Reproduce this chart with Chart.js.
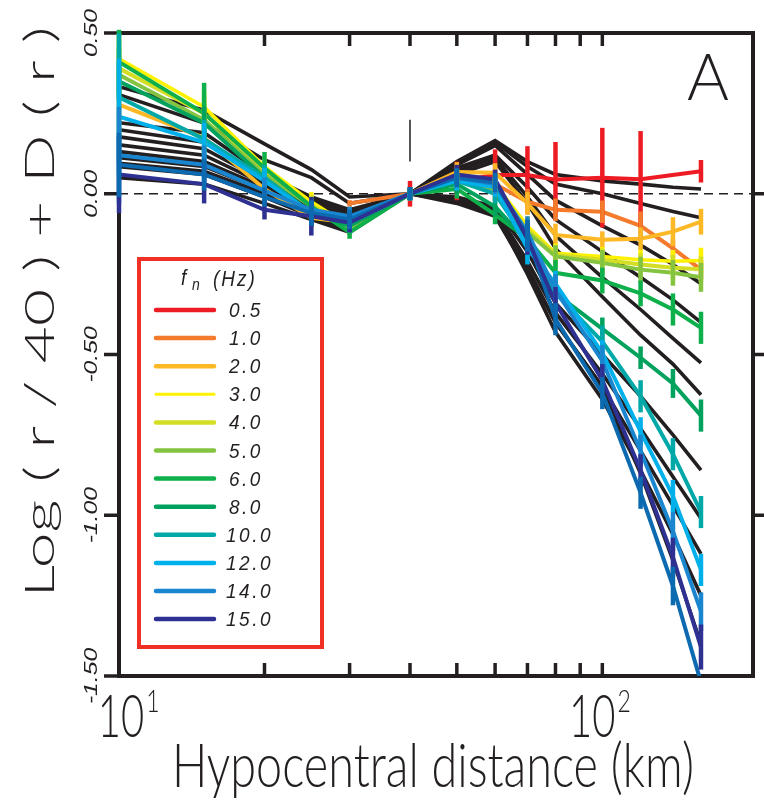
<!DOCTYPE html>
<html>
<head>
<meta charset="utf-8">
<script src="https://cdn.jsdelivr.net/npm/chart.js@4.4.1/dist/chart.umd.min.js"></script>
<style>
  html, body { margin: 0; padding: 0; background: #fff; }
</style>
</head>
<body>
<canvas id="distChart" width="764" height="800"></canvas>
<script>
// hypocentral distances (km) of the bins
var distances = [10, 15, 20, 25, 30, 40, 50, 60, 70, 80, 100, 120, 140, 160];

var freqLabels = ['0.5', '1.0', '2.0', '3.0', '4.0', '5.0', '6.0', '8.0', '10.0', '12.0', '14.0', '15.0'];
var freqColors = ['#ED1C24', '#F47A2C', '#FDB825', '#FFF200', '#D4DE25', '#84C441',
                  '#0DB04B', '#00A25E', '#00A9A8', '#00B0EA', '#1A86CF', '#2E3192'];
var extraColor = '#0B6AB0';

// observed values, one per frequency (null = no data)
var obs05 = [null, null, null, null, null, 0, 0.04, 0.058, 0.058, 0.044, 0.05, 0.045, null, 0.07];
var obs1  = [null, null, null, null, -0.03, 0, 0.05, 0.03, -0.025, -0.05, -0.056, -0.10, -0.17, -0.236];
var obs2  = [0.277, 0.174, 0.015, -0.075, -0.09, 0, 0.068, 0.065, -0.03, -0.128, -0.143, -0.14, -0.118, -0.087];
var obs3  = [0.42, 0.27, 0.084, -0.025, -0.10, 0, 0.05, 0.03, -0.10, -0.185, -0.195, -0.205, -0.21, -0.208];
var obs4  = [0.39, 0.25, 0.07, -0.035, -0.10, 0, 0.045, 0.02, -0.11, -0.19, -0.205, -0.22, -0.23, -0.235];
var obs5  = [0.37, 0.23, 0.06, -0.04, -0.11, 0, 0.04, 0.01, -0.12, -0.195, -0.215, -0.236, -0.246, -0.26];
var obs6  = [0.41, 0.25, 0.08, -0.04, -0.12, 0, 0.015, -0.065, -0.14, -0.246, -0.27, -0.31, -0.36, -0.417];
var obs8  = [0.35, 0.22, 0.05, -0.06, -0.10, 0, 0.03, -0.04, -0.15, -0.31, -0.42, -0.51, -0.59, -0.69];
var obs10 = [0.30, 0.17, 0.05, -0.06, -0.09, 0, 0.04, 0.0, -0.15, -0.31, -0.46, -0.63, -0.81, -0.99];
var obs12 = [0.24, 0.16, 0.04, -0.06, -0.08, 0, 0.04, 0.02, -0.17, -0.28, -0.495, -0.74, -0.94, -1.17];
var obs14 = [0.12, 0.09, 0.01, -0.05, -0.07, 0, 0.05, 0.03, -0.12, -0.30, -0.52, -0.80, -1.05, -1.30];
var obs15 = [0.06, 0.03, -0.05, -0.07, -0.09, 0, 0.06, 0.045, -0.14, -0.34, -0.58, -0.86, -1.13, -1.41];
var obsExtra = [0.09, 0.06, -0.01, -0.06, -0.08, 0, 0.05, 0.035, -0.13, -0.39, -0.62, -0.93, -1.22, -1.52];

// half length of the error bars
var err05 = [0, 0, 0, 0, 0, 0.04, 0.06, 0.08, 0.09, 0.117, 0.155, 0.15, 0, 0.035];
var err1  = [0, 0, 0, 0, 0.01, 0.02, 0.02, 0.02, 0.04, 0.035, 0.035, 0.045, 0.03, 0.03];
var err2  = [0.1, 0.05, 0.03, 0.03, 0.02, 0.02, 0.03, 0.03, 0.035, 0.035, 0.026, 0.035, 0.045, 0.04];
var err3  = [0.08, 0.05, 0.03, 0.03, 0.02, 0.02, 0.02, 0.03, 0.03, 0.03, 0.03, 0.03, 0.035, 0.04];
var err4  = [0.08, 0.05, 0.03, 0.03, 0.02, 0.02, 0.02, 0.03, 0.03, 0.03, 0.035, 0.035, 0.04, 0.04];
var err5  = [0.08, 0.05, 0.03, 0.03, 0.02, 0.02, 0.02, 0.03, 0.03, 0.035, 0.04, 0.04, 0.04, 0.045];
var err6  = [0.1, 0.095, 0.05, 0.03, 0.02, 0.02, 0.03, 0.03, 0.04, 0.04, 0.04, 0.04, 0.05, 0.05];
var err8  = [0.06, 0.05, 0.03, 0.03, 0.02, 0.02, 0.03, 0.03, 0.04, 0.04, 0.035, 0.035, 0.045, 0.05];
var err10 = [0.2, 0.06, 0.04, 0.04, 0.03, 0.02, 0.03, 0.03, 0.05, 0.05, 0.05, 0.05, 0.05, 0.05];
var err12 = [0.18, 0.06, 0.04, 0.04, 0.03, 0.02, 0.03, 0.03, 0.05, 0.04, 0.04, 0.045, 0.05, 0.05];
var err14 = [0.15, 0.06, 0.04, 0.04, 0.03, 0.02, 0.03, 0.03, 0.05, 0.05, 0.05, 0.05, 0.06, 0.06];
var err15 = [0.12, 0.06, 0.03, 0.06, 0.03, 0.02, 0.03, 0.03, 0.05, 0.05, 0.05, 0.05, 0.06, 0.07];
var errExtra = [0.1, 0.05, 0.03, 0.04, 0.03, 0.02, 0.03, 0.03, 0.05, 0.05, 0.05, 0.05, 0.06, 0];

// model curves (black)
var model1  = [0.333, 0.26, 0.155, 0.075, -0.01, 0, 0.10, 0.165, 0.10, 0.06, 0.04, 0.03, 0.02, 0.015];
var model2  = [0.308, 0.22, 0.105, 0.05, -0.03, 0, 0.095, 0.16, 0.085, 0.03, 0.0, -0.03, -0.055, -0.075];
var model3  = [0.221, 0.19, 0.06, -0.01, -0.05, 0, 0.09, 0.15, 0.06, -0.02, -0.10, -0.16, -0.22, -0.28];
var model4  = [0.199, 0.16, 0.05, -0.02, -0.06, 0, 0.08, 0.12, 0.02, -0.08, -0.18, -0.26, -0.33, -0.40];
var model5  = [0.177, 0.14, 0.04, -0.03, -0.07, 0, 0.07, 0.11, -0.01, -0.13, -0.26, -0.36, -0.45, -0.526];
var model6  = [0.152, 0.12, 0.03, -0.04, -0.08, 0, 0.06, 0.10, -0.03, -0.17, -0.32, -0.44, -0.53, -0.625];
var model7  = [0.131, 0.10, 0.02, -0.05, -0.09, 0, -0.01, -0.04, -0.18, -0.34, -0.50, -0.63, -0.75, -0.86];
var model8  = [0.112, 0.085, 0.01, -0.06, -0.10, 0, -0.015, -0.05, -0.21, -0.37, -0.56, -0.73, -0.88, -1.01];
var model9  = [0.095, 0.07, 0.0, -0.065, -0.105, 0, -0.02, -0.055, -0.23, -0.40, -0.60, -0.80, -0.97, -1.12];
var model10 = [0.084, 0.06, -0.01, -0.07, -0.11, 0, -0.025, -0.06, -0.25, -0.43, -0.64, -0.86, -1.06, -1.25];
var model11 = [0.05, 0.03, -0.03, -0.08, -0.12, 0, -0.03, -0.07, -0.24, -0.40, -0.60, -0.87, -1.14, -1.40];

// short vertical mark at 40 km
var markX = [40, 40];
var markY = [0.23, 0.10];

var yTicks = [0.5, 0, -0.5, -1.0, -1.5];
var yTickLabels = ['0.50', '0.00', '-0.50', '-1.00', '-1.50'];
var rightTicks = [0, -0.5, -1.0];
var xMinorTicks = [20, 30, 40, 50, 60, 70, 80, 90, 100];
var xLabelTicks = [10, 100];
var xLabelExp = ['1', '2'];

var obsSeries = [obs05, obs1, obs2, obs3, obs4, obs5, obs6, obs8, obs10, obs12, obs14, obs15];
var errSeries = [err05, err1, err2, err3, err4, err5, err6, err8, err10, err12, err14, err15];
var modelSeries = [model1, model2, model3, model4, model5, model6, model7, model8, model9, model10, model11];

function toPoints(vals) {
  return distances.map(function (d, i) { return {x: d, y: vals[i]}; });
}

var datasets = [];
obsSeries.forEach(function (vals, i) {
  datasets.push({
    label: freqLabels[i],
    data: toPoints(vals),
    borderColor: freqColors[i],
    borderWidth: i === 3 ? 3.5 : 4,
    pointRadius: 0,
    spanGaps: true,
    order: 20 - i,
    errors: errSeries[i]
  });
});
datasets.push({
  label: '',
  data: toPoints(obsExtra),
  borderColor: extraColor,
  borderWidth: 4,
  pointRadius: 0,
  order: 9.5,
  errors: errExtra
});
modelSeries.forEach(function (vals) {
  datasets.push({
    label: '',
    data: toPoints(vals),
    borderColor: '#231F20',
    borderWidth: 3.6,
    pointRadius: 0,
    order: 50
  });
});
datasets.push({
  label: '',
  data: markX.map(function (x, i) { return {x: x, y: markY[i]}; }),
  borderColor: '#231F20',
  borderWidth: 1.5,
  pointRadius: 0,
  order: 60
});

// draws text squeezed/stretched around its anchor
function stretchText(ctx, text, x, y, sx, sy, rot) {
  ctx.save();
  ctx.translate(x, y);
  if (rot) ctx.rotate(rot);
  ctx.scale(sx, sy);
  ctx.fillText(text, 0, 0);
  ctx.restore();
}

function seg(ctx, x1, y1, x2, y2) {
  ctx.beginPath();
  ctx.moveTo(x1, y1);
  ctx.lineTo(x2, y2);
  ctx.stroke();
}

//-------------
//- FRAME -
//-------------
var framePlugin = {
  id: 'frame',
  beforeDatasetsDraw: function (chart) {
    var ctx = chart.ctx, a = chart.chartArea;
    var xs = chart.scales.x, ys = chart.scales.y;
    ctx.save();
    ctx.strokeStyle = '#231F20';

    var y0 = ys.getPixelForValue(0);
    ctx.lineWidth = 1.5;
    ctx.setLineDash([9, 6]);
    seg(ctx, a.left, y0, a.right + 12, y0);
    ctx.setLineDash([]);

    ctx.lineWidth = 4;
    ctx.strokeRect(a.left, a.top, a.right - a.left, a.bottom - a.top);

    ctx.lineWidth = 3.5;
    yTicks.forEach(function (v) {
      var y = ys.getPixelForValue(v);
      seg(ctx, a.left - 15, y, a.left, y);
    });
    rightTicks.forEach(function (v) {
      var y = ys.getPixelForValue(v);
      seg(ctx, a.right, y, a.right + 12, y);
    });
    xMinorTicks.forEach(function (d) {
      var x = xs.getPixelForValue(d);
      seg(ctx, x, a.top, x, a.top + 13);
      seg(ctx, x, a.bottom, x, a.bottom - 13);
    });
    ctx.restore();
  }
};

//-------------
//- ERROR BARS -
//-------------
var errorBarPlugin = {
  id: 'errorBars',
  afterDatasetsDraw: function (chart) {
    var ctx = chart.ctx;
    var xs = chart.scales.x, ys = chart.scales.y;
    ctx.save();
    ctx.lineWidth = 4.5;
    chart.data.datasets.forEach(function (ds) {
      if (!ds.errors) return;
      ctx.strokeStyle = ds.borderColor;
      ds.data.forEach(function (p, j) {
        var e = ds.errors[j];
        if (p.y === null || !e) return;
        var x = xs.getPixelForValue(p.x);
        seg(ctx, x, ys.getPixelForValue(p.y + e), x, ys.getPixelForValue(p.y - e));
      });
    });
    ctx.restore();
  }
};

//-------------
//- TEXT + LEGEND -
//-------------
var textPlugin = {
  id: 'texts',
  afterDraw: function (chart) {
    var ctx = chart.ctx;
    var xs = chart.scales.x, ys = chart.scales.y;
    ctx.save();
    ctx.fillStyle = '#231F20';
    ctx.textBaseline = 'alphabetic';

    // y tick labels, rotated
    ctx.font = 'italic 18px "Liberation Sans"';
    ctx.textAlign = 'center';
    yTicks.forEach(function (v, i) {
      stretchText(ctx, yTickLabels[i], 97, ys.getPixelForValue(v), 1.37, 1, -Math.PI / 2);
    });

    // y title
    var yTitle = 'Log ( r / 40 ) + D ( r )';
    ctx.font = '300 46px Lato';
    var w = ctx.measureText(yTitle).width;
    stretchText(ctx, yTitle, 54, 312, 571 / w, 0.9, -Math.PI / 2);

    // x tick labels 10^1, 10^2
    xLabelTicks.forEach(function (d, i) {
      var x = xs.getPixelForValue(d) + (i === 0 ? 2 : -10);
      ctx.font = '300 40px Lato';
      ctx.textAlign = 'center';
      var bw = ctx.measureText('10').width;
      stretchText(ctx, '10', x, 737, 1, 1.5);
      ctx.font = '300 23px Lato';
      ctx.textAlign = 'left';
      stretchText(ctx, xLabelExp[i], x + bw / 2 + 2, 712, 1, 1.4);
    });

    // x title
    var xTitle = 'Hypocentral distance (km)';
    ctx.font = '300 42px Lato';
    ctx.textAlign = 'center';
    w = ctx.measureText(xTitle).width;
    stretchText(ctx, xTitle, 433, 787, 522 / w, 1.45);

    // panel letter
    ctx.font = '300 64px Lato';
    stretchText(ctx, 'A', 708, 100, 1, 1.02);

    // legend box
    ctx.strokeStyle = '#EE3124';
    ctx.lineWidth = 4;
    ctx.strokeRect(139, 259, 183, 388);

    ctx.textAlign = 'left';
    ctx.font = 'italic 19px "Liberation Sans"';
    stretchText(ctx, 'f', 181, 285, 1, 1.15);
    ctx.font = 'italic 14px "Liberation Sans"';
    stretchText(ctx, 'n', 192, 290, 1, 1.15);
    ctx.font = 'italic 19px "Liberation Sans"';
    ctx.letterSpacing = '2px';
    stretchText(ctx, '(Hz)', 213, 286, 1, 1.15);

    ctx.letterSpacing = '2.5px';
    ctx.lineCap = 'round';
    freqLabels.forEach(function (lab, i) {
      var y = 310 + i * 28.1;
      ctx.strokeStyle = freqColors[i];
      ctx.lineWidth = i === 3 ? 3 : 4.5;
      seg(ctx, 156, y, 214, y);
      ctx.fillStyle = '#231F20';
      stretchText(ctx, lab, i < 8 ? 229 : 226, y + 7, 1, 1.1);
    });
    ctx.letterSpacing = '0px';
    ctx.restore();
  }
};

var chart = new Chart(document.getElementById('distChart').getContext('2d'), {
  type: 'line',
  data: {datasets: datasets},
  options: {
    responsive: false,
    devicePixelRatio: 1,
    animation: false,
    layout: {padding: {left: 119, right: 11, top: 33, bottom: 124}},
    plugins: {legend: {display: false}, tooltip: {enabled: false}},
    elements: {line: {tension: 0, borderCapStyle: 'butt'}},
    scales: {
      x: {type: 'logarithmic', min: 10, max: 205, display: false},
      y: {type: 'linear', min: -1.5, max: 0.5, display: false}
    }
  },
  plugins: [framePlugin, errorBarPlugin, textPlugin]
});
</script>
</body>
</html>
